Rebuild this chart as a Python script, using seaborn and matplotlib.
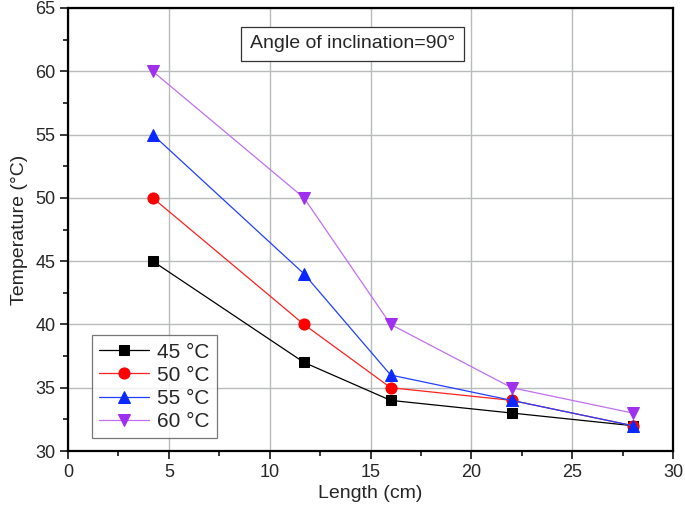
import matplotlib
matplotlib.use("Agg")
import matplotlib.pyplot as plt
import seaborn as sns
import pandas as pd
from matplotlib.ticker import MultipleLocator

length = [4.2, 11.7, 16, 22, 28]
t45 = [45, 37, 34, 33, 32]
t50 = [50, 40, 35, 34, 32]
t55 = [55, 44, 36, 34, 32]
t60 = [60, 50, 40, 35, 33]
labels = ["45 °C", "50 °C", "55 °C", "60 °C"]

rows = []
for lab, vals in zip(labels, [t45, t50, t55, t60]):
    for x, y in zip(length, vals):
        rows.append({"Length": x, "Temp": y, "Series": lab})
df = pd.DataFrame(rows)

sns.set_style("white")
plt.rcParams['font.family'] = ['Liberation Sans', 'DejaVu Sans']

fig = plt.figure(figsize=(6.85, 5.11), dpi=100)
ax = fig.add_axes([68/685, 1-451/511, (673-68)/685, (451-8)/511])

line_colors = {"45 °C": "#000000", "50 °C": "#ff2020", "55 °C": "#2040ff", "60 °C": "#c070f0"}
marker_colors = {"45 °C": "#000000", "50 °C": "#ff0000", "55 °C": "#0a28ff", "60 °C": "#a030f0"}
markers = {"45 °C": "s", "50 °C": "o", "55 °C": "^", "60 °C": "v"}
sizes = {"45 °C": 7, "50 °C": 8, "55 °C": 9, "60 °C": 9}

for lab in labels:
    sub = df[df["Series"] == lab]
    sns.lineplot(data=sub, x="Length", y="Temp", ax=ax, color=line_colors[lab],
                 marker=markers[lab], markersize=sizes[lab], markerfacecolor=marker_colors[lab],
                 markeredgecolor=marker_colors[lab], linewidth=0.9, label=lab)

ax.set_xlim(0, 30)
ax.set_ylim(30, 65)
ax.xaxis.set_major_locator(MultipleLocator(5))
ax.xaxis.set_minor_locator(MultipleLocator(2.5))
ax.yaxis.set_major_locator(MultipleLocator(5))
ax.yaxis.set_minor_locator(MultipleLocator(2.5))
ax.grid(True, which="major", color="#b8bcbc", linewidth=1.0)
ax.set_axisbelow(True)
ax.tick_params(axis="both", which="major", direction="out", length=6, width=1.3, labelsize=13,
               bottom=True, left=True, top=False, right=False, pad=3)
ax.tick_params(axis="both", which="minor", direction="out", length=3.5, width=1.3,
               bottom=True, left=True, top=False, right=False)
for s in ax.spines.values():
    s.set_color("black")
    s.set_linewidth(1.6)

ax.set_xlabel("Length (cm)", fontsize=14, labelpad=3)
ax.set_ylabel("Temperature (°C)", fontsize=14, labelpad=5)

ax.text(0.47, 0.919, "Angle of inclination=90°", transform=ax.transAxes, fontsize=14,
        ha="center", va="center",
        bbox=dict(boxstyle="square,pad=0.45", facecolor="white", edgecolor="#333333", linewidth=0.9))

leg = ax.legend(loc="lower left", bbox_to_anchor=(0.022, 0.005), fontsize=15, frameon=True,
                fancybox=False, edgecolor="#555555", handlelength=2.4, handletextpad=0.4,
                borderpad=0.35, labelspacing=0.2)
leg.get_frame().set_linewidth(0.9)

fig.savefig("out.png", dpi=100)
